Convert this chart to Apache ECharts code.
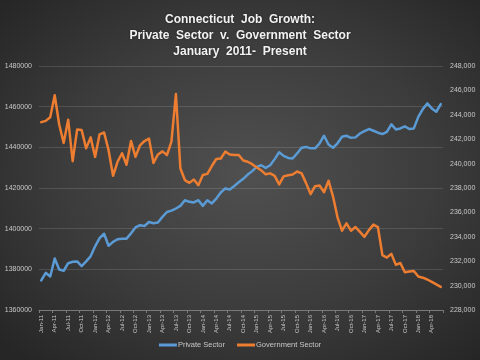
<!DOCTYPE html>
<html>
<head>
<meta charset="utf-8">
<script src="https://cdn.jsdelivr.net/npm/echarts@6/dist/echarts.min.js"></script>
<style>
html,body{margin:0;padding:0;}
#chart{width:480px;height:360px;background:radial-gradient(ellipse 70% 70% at 52% 48%, #505050 0%, #3c3c3c 55%, #262626 100%);}
</style>
</head>
<body>
<div id="chart"></div>
<script>
const titleLines = ["Connecticut  Job  Growth:", "Private  Sector  v.  Government  Sector", "January  2011-  Present"];
const monthNames = ["Jan","Feb","Mar","Apr","May","Jun","Jul","Aug","Sep","Oct","Nov","Dec"];
const startYear = 11;
const monthCount = 90;
const categories = [];
for (let i = 0; i < monthCount; i++) {
  categories.push(monthNames[i % 12] + "-" + (startYear + Math.floor(i / 12)));
}
const privateSector = [
  1374600,1378300,1376500,1385300,1379900,1379300,1383000,1383700,1383900,1381600,1383900,1386400,
  1391300,1395300,1397500,1391600,1393500,1394800,1395000,1395100,1397700,1400600,1401700,1401300,
  1403300,1402700,1403000,1405800,1408200,1408900,1409900,1411200,1414000,1413200,1412900,1414000,
  1411200,1414000,1412400,1414800,1417800,1419800,1419300,1421000,1422800,1424500,1426600,1428300,
  1430400,1431200,1429900,1431200,1434200,1437600,1435800,1434800,1434500,1437000,1439800,1440200,
  1439500,1439500,1441900,1445700,1441400,1439800,1442000,1445200,1445700,1444700,1444900,1446800,
  1448000,1449000,1448150,1447200,1446500,1447650,1451300,1448800,1449300,1450300,1449000,1449300,
  1455000,1458800,1461600,1459150,1457500,1461300
];
const governmentSector = [
  243400,243500,243800,245600,243200,241700,243600,240200,242800,242750,241250,242150,
  240550,242400,242550,241100,239000,240150,240850,239900,241850,240550,241500,241850,
  242050,240050,240750,241000,240700,241800,245700,239600,238650,238420,238700,238230,
  239070,239160,239800,240380,240420,240980,240750,240700,240700,240250,240150,239950,
  239680,239450,239120,239200,239000,238300,238950,239050,239100,239350,239200,238400,
  237500,238150,238200,237650,238600,237300,235600,234500,235100,234500,234800,234400,
  234000,234550,235000,234800,232500,232300,232600,231700,231850,231100,231150,231200,
  230750,230650,230500,230300,230100,229900
];
const leftAxis = {min: 1360000, max: 1480000, interval: 20000};
const rightAxis = {min: 228000, max: 248000, interval: 2000};
const seriesNames = ["Private Sector", "Government Sector"];
const colors = ["#5b9bd5", "#ed7d31"];

const chart = echarts.init(document.getElementById("chart"), null, {renderer: "canvas"});
const labelColor = "#c8c8c8";
chart.setOption({
  backgroundColor: "transparent",
  color: colors,
  animation: false,
  title: {
    text: titleLines.join("\n"),
    left: "center",
    top: 7,
    textStyle: {
      color: "#f2f2f2",
      fontFamily: "Liberation Sans",
      fontWeight: "bold",
      fontSize: 12,
      lineHeight: 16,
      textShadowColor: "rgba(0,0,0,0.5)",
      textShadowBlur: 2
    }
  },
  legend: {
    bottom: 6,
    left: "center",
    itemWidth: 18,
    itemHeight: 3,
    itemGap: 12,
    icon: "rect",
    textStyle: {color: labelColor, fontSize: 7.5, fontFamily: "Liberation Sans", padding: [0, 0, 0, -4]},
    data: seriesNames
  },
  grid: {left: 39, right: 37, top: 66, bottom: 50, containLabel: false},
  xAxis: {
    type: "category",
    data: categories,
    boundaryGap: true,
    axisLine: {lineStyle: {color: "#7a7a7a", width: 1}},
    axisTick: {show: true, interval: 2, length: 3, lineStyle: {color: "#7a7a7a"}},
    axisLabel: {
      interval: 2,
      rotate: 90,
      color: labelColor,
      fontSize: 6,
      fontFamily: "Liberation Sans",
      margin: 5
    },
    splitLine: {show: false}
  },
  yAxis: [
    {
      type: "value",
      min: leftAxis.min, max: leftAxis.max, interval: leftAxis.interval,
      axisLine: {show: false},
      axisTick: {show: false},
      axisLabel: {color: labelColor, fontSize: 7, fontFamily: "Liberation Sans", margin: 7,
        formatter: v => String(v)},
      splitLine: {show: true, lineStyle: {color: "rgba(255,255,255,0.13)", width: 1}}
    },
    {
      type: "value",
      position: "right",
      min: rightAxis.min, max: rightAxis.max, interval: rightAxis.interval,
      axisLine: {show: false},
      axisTick: {show: false},
      axisLabel: {
        color: labelColor, fontSize: 7, fontFamily: "Liberation Sans", margin: 7,
        formatter: v => v.toLocaleString("en-US")
      },
      splitLine: {show: false}
    }
  ],
  series: [
    {
      name: seriesNames[0],
      type: "line",
      yAxisIndex: 0,
      data: privateSector,
      showSymbol: false,
      symbol: "none",
      lineStyle: {width: 2.5, color: colors[0], join: "round", cap: "round"}
    },
    {
      name: seriesNames[1],
      type: "line",
      yAxisIndex: 1,
      data: governmentSector,
      showSymbol: false,
      symbol: "none",
      lineStyle: {width: 2.5, color: colors[1], join: "round", cap: "round"}
    }
  ]
});
</script>
</body>
</html>
